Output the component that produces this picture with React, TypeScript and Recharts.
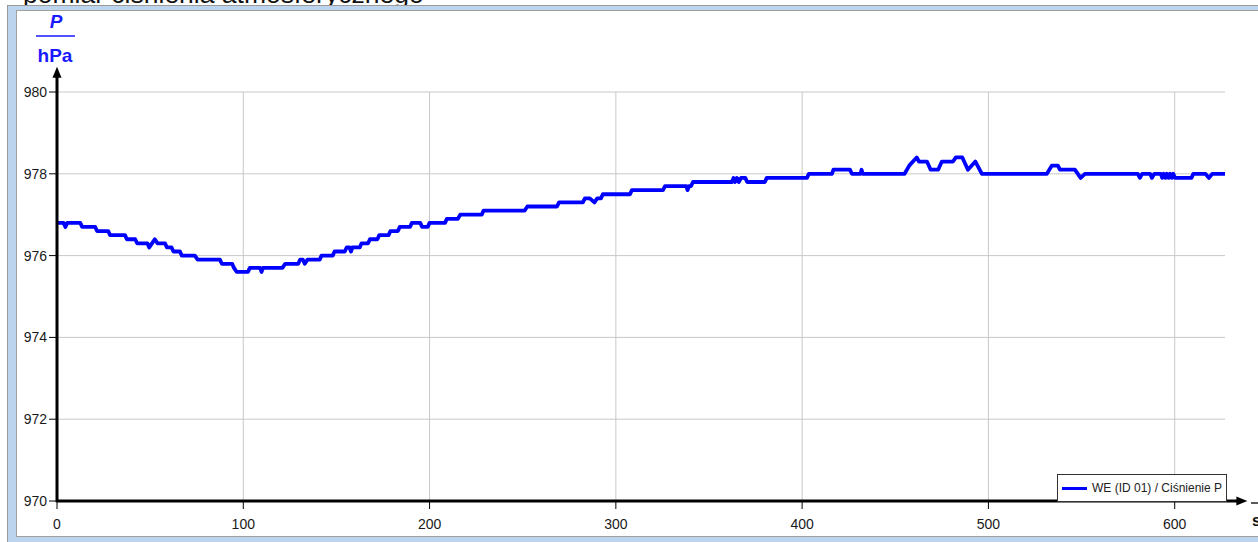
import React from 'react';
import { LineChart, Line, XAxis, YAxis, ReferenceLine, Legend } from 'recharts';

const TIME = [
  0, 3.5, 4.5, 5.5, 12.5, 13.5, 20.5, 21.5, 27.5, 28.5, 36.5, 37.5, 42, 43, 48.5, 49.5, 51, 52.5, 54, 58,
  59, 61.5, 62.5, 66, 67, 74, 75.5, 87.5, 88.5, 94, 95, 96.5, 102.5, 103.5, 109, 109.8, 110.6, 121, 122.5, 129.5,
  130.5, 132, 133, 134.5, 141, 142, 148, 149, 154.5, 155.5, 157, 157.8, 158.6, 162.5, 163.5, 167, 168, 172, 173, 178,
  179, 183, 184, 189.5, 190.5, 195, 196, 199, 200, 208.3, 209.3, 215.2, 216.5, 228, 229, 251, 252.5, 268.4, 269.5, 282.3,
  283.4, 286, 288.5, 290, 292, 293, 307.6, 308.6, 325.3, 326.4, 337.8, 338.5, 339.3, 340.4, 341.4, 362.3, 363.2, 364, 365, 366,
  367.2, 369.5, 370.5, 380, 381, 402.6, 403.6, 416, 416.8, 425.7, 426.7, 431.3, 431.9, 432.5, 455, 457.5, 459.5, 461.5, 462.7, 467,
  469, 473, 475, 481, 482.5, 486, 489, 493, 496.5, 531.4, 534, 537.3, 538.4, 546.4, 549.5, 551.8, 580.2, 581.3, 582.5, 586.8,
  587.8, 589, 592.5, 593.3, 594.1, 595, 595.8, 596.7, 597.5, 598.4, 599.2, 600.2, 609, 610, 616.5, 618.4, 620.2, 627,
];

const PRESSURE = [
  976.8, 976.8, 976.7, 976.8, 976.8, 976.7, 976.7, 976.6, 976.6, 976.5, 976.5, 976.4, 976.4, 976.3, 976.3, 976.2, 976.3, 976.4, 976.3, 976.3,
  976.2, 976.2, 976.1, 976.1, 976.0, 976.0, 975.9, 975.9, 975.8, 975.8, 975.7, 975.6, 975.6, 975.7, 975.7, 975.6, 975.7, 975.7, 975.8, 975.8,
  975.9, 975.9, 975.8, 975.9, 975.9, 976.0, 976.0, 976.1, 976.1, 976.2, 976.2, 976.1, 976.2, 976.2, 976.3, 976.3, 976.4, 976.4, 976.5, 976.5,
  976.6, 976.6, 976.7, 976.7, 976.8, 976.8, 976.7, 976.7, 976.8, 976.8, 976.9, 976.9, 977.0, 977.0, 977.1, 977.1, 977.2, 977.2, 977.3, 977.3,
  977.4, 977.4, 977.3, 977.4, 977.4, 977.5, 977.5, 977.6, 977.6, 977.7, 977.7, 977.6, 977.7, 977.7, 977.8, 977.8, 977.9, 977.8, 977.9, 977.8,
  977.9, 977.9, 977.8, 977.8, 977.9, 977.9, 978.0, 978.0, 978.1, 978.1, 978.0, 978.0, 978.1, 978.0, 978.0, 978.2, 978.3, 978.4, 978.3, 978.3,
  978.1, 978.1, 978.3, 978.3, 978.4, 978.4, 978.1, 978.3, 978.0, 978.0, 978.2, 978.2, 978.1, 978.1, 977.9, 978.0, 978.0, 977.9, 978.0, 978.0,
  977.9, 978.0, 978.0, 977.9, 978.0, 977.9, 978.0, 977.9, 978.0, 977.9, 978.0, 977.9, 977.9, 978.0, 978.0, 977.9, 978.0, 978.0,
];

const X_TICKS = [0, 100, 200, 300, 400, 500, 600];
const Y_TICKS = [970, 972, 974, 976, 978, 980];
const SERIES_NAME = 'WE (ID 01) / Ciśnienie P';
const TITLE = 'pomiar ciśnienia atmosferycznego';

const data = TIME.map((t, i) => ({ t, p: PRESSURE[i] }));

const FONT = '"Liberation Sans", Arial, sans-serif';
const BLUE = '#0000ff';
const LABEL_BLUE = '#1a1aff';
const GRID = '#c8c8c8';

const ArrowLine = (props: any) => {
  const { x1, y1, x2, y2 } = props;
  if ([x1, y1, x2, y2].some((v) => typeof v !== 'number' || isNaN(v))) return null;
  const dx = x2 - x1;
  const dy = y2 - y1;
  const len = Math.sqrt(dx * dx + dy * dy) || 1;
  const ux = dx / len;
  const uy = dy / len;
  const head = 11;
  const half = 4.5;
  const bx = x2 - ux * head;
  const by = y2 - uy * head;
  const px = -uy;
  const py = ux;
  return (
    <g>
      <line x1={x1} y1={y1} x2={bx + ux * 2} y2={by + uy * 2} stroke="#000" strokeWidth={3} />
      <polygon
        points={`${x2},${y2} ${bx + px * half},${by + py * half} ${bx - px * half},${by - py * half}`}
        fill="#000"
      />
    </g>
  );
};

const renderLegend = (props: any) => {
  const { payload } = props;
  return (
    <div
      style={{
        boxSizing: 'border-box',
        width: 170,
        height: 28,
        border: '1px solid #333',
        background: '#fff',
        display: 'flex',
        alignItems: 'center',
        fontFamily: FONT,
        fontSize: 12,
        color: '#222',
        whiteSpace: 'nowrap',
      }}
    >
      {(payload || []).map((entry: any, i: number) => (
        <div key={i} style={{ display: 'flex', alignItems: 'center' }}>
          <span
            style={{
              display: 'inline-block',
              width: 25,
              height: 3,
              background: entry.color,
              marginLeft: 4,
              marginRight: 5,
            }}
          />
          <span>{entry.value}</span>
        </div>
      ))}
    </div>
  );
};

export default function App() {
  return (
    <div style={{ position: 'absolute', left: 0, top: 0, width: 1258, height: 542, overflow: 'hidden', background: '#fff' }}>
      <svg width={1258} height={20} style={{ position: 'absolute', left: 0, top: 0 }}>
        <text x={23} y={3} fontFamily={FONT} fontSize={26.5} fill="#111">
          {TITLE}
        </text>
      </svg>
      <div
        style={{
          position: 'absolute',
          left: 7,
          top: 5,
          width: 1251,
          height: 537,
          boxSizing: 'border-box',
          background: '#bcd4ed',
          borderTop: '1px solid #9a9a9a',
          borderLeft: '1px solid #9a9a9a',
        }}
      />
      <div
        style={{
          position: 'absolute',
          left: 16,
          top: 10,
          width: 1242,
          height: 527,
          boxSizing: 'border-box',
          background: '#fff',
          borderTop: '1px solid #a0a0a0',
          borderLeft: '1px solid #a0a0a0',
          borderBottom: '1px solid #a0a0a0',
        }}
      />
      <div style={{ position: 'absolute', left: 0, top: 0 }}>
        <LineChart width={1258} height={542} data={data} margin={{ top: 92, right: 33, bottom: 11, left: 0 }}>
          <XAxis
            dataKey="t"
            type="number"
            domain={[0, 627]}
            ticks={X_TICKS}
            allowDataOverflow
            axisLine={false}
            tickLine={{ stroke: '#000', strokeWidth: 1 }}
            tickSize={8}
            tickMargin={10}
            height={30}
            tick={{ fill: '#1a1a1a', fontSize: 14, fontFamily: FONT }}
            interval={0}
          />
          <YAxis
            type="number"
            domain={[970, 980]}
            ticks={Y_TICKS}
            allowDataOverflow
            axisLine={false}
            tickLine={{ stroke: '#000', strokeWidth: 1 }}
            tickSize={8}
            tickMargin={2}
            width={57}
            tick={{ fill: '#1a1a1a', fontSize: 14, fontFamily: FONT }}
            interval={0}
          />
          {X_TICKS.filter((v) => v > 0).map((v) => (
            <ReferenceLine key={`vx${v}`} x={v} stroke={GRID} strokeWidth={1} />
          ))}
          {Y_TICKS.filter((v) => v > 970).map((v) => (
            <ReferenceLine key={`hy${v}`} y={v} stroke={GRID} strokeWidth={1} />
          ))}
          <Line
            name={SERIES_NAME}
            type="linear"
            dataKey="p"
            stroke={BLUE}
            strokeWidth={3.8}
            dot={false}
            activeDot={false}
            isAnimationActive={false}
            strokeLinejoin="round"
          />
          <ReferenceLine
            segment={[
              { x: 0, y: 970 },
              { x: 639, y: 970 },
            ]}
            ifOverflow="visible"
            shape={ArrowLine}
          />
          <ReferenceLine
            segment={[
              { x: 0, y: 969.97 },
              { x: 0, y: 980.62 },
            ]}
            ifOverflow="visible"
            shape={ArrowLine}
          />
          <Legend
            layout="vertical"
            align="center"
            verticalAlign="middle"
            content={renderLegend}
            wrapperStyle={{ position: 'absolute', left: 1057, top: 474, right: 'auto', bottom: 'auto', width: 170, height: 28 }}
          />
        </LineChart>
      </div>
      <svg width={1258} height={542} style={{ position: 'absolute', left: 0, top: 0, pointerEvents: 'none' }}>
        <text x={56} y={28} textAnchor="middle" fontFamily={FONT} fontSize={19} fontWeight="bold" fontStyle="italic" fill={LABEL_BLUE}>
          P
        </text>
        <line x1={36} y1={36} x2={75} y2={36} stroke={LABEL_BLUE} strokeWidth={1.5} />
        <text x={55} y={62} textAnchor="middle" fontFamily={FONT} fontSize={19} fontWeight="bold" fill={LABEL_BLUE}>
          hPa
        </text>
        <line x1={1251} y1={503} x2={1258} y2={503} stroke="#222" strokeWidth={1.5} />
        <text x={1252} y={526} fontFamily={FONT} fontSize={16} fontWeight="bold" fill="#111">
          s
        </text>
      </svg>
    </div>
  );
}
